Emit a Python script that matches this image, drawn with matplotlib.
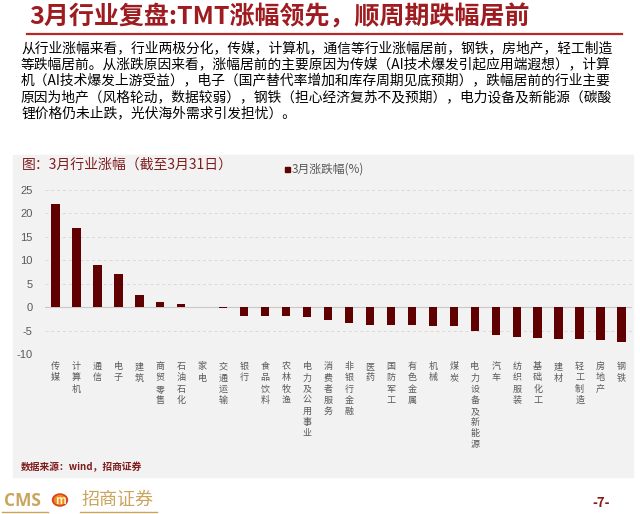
import matplotlib
matplotlib.use('Agg')
import matplotlib.pyplot as plt
from matplotlib.patches import Rectangle, Circle
from matplotlib.lines import Line2D

plt.rcParams['font.family'] = ['Noto Sans CJK SC', 'DejaVu Sans']

# industries and March change (%)
industries = ['传媒', '计算机', '通信', '电子', '建筑', '商贸零售', '石油石化', '家电',
              '交通运输', '银行', '食品饮料', '农林牧渔', '电力及公用事业', '消费者服务',
              '非银行金融', '医药', '国防军工', '有色金属', '机械', '煤炭',
              '电力设备及新能源', '汽车', '纺织服装', '基础化工', '建材', '轻工制造',
              '房地产', '钢铁']
change = [22.1, 16.8, 8.9, 7.1, 2.5, 1.2, 0.7, 0.05,
          -0.1, -1.8, -1.8, -1.9, -2.1, -2.7,
          -3.4, -3.8, -3.9, -3.9, -4.1, -4.1,
          -5.0, -5.9, -6.4, -6.6, -6.8, -6.9,
          -7.1, -7.4]
yticks = [25, 20, 15, 10, 5, 0, -5, -10]

title = '3月行业复盘:TMT涨幅领先，顺周期跌幅居前'
para = ['从行业涨幅来看，行业两极分化，传媒，计算机，通信等行业涨幅居前，钢铁，房地产，轻工制造',
        '等跌幅居前。从涨跌原因来看，涨幅居前的主要原因为传媒（AI技术爆发引起应用端遐想），计算',
        '机（AI技术爆发上游受益），电子（国产替代率增加和库存周期见底预期），跌幅居前的行业主要',
        '原因为地产（风格轮动，数据较弱），钢铁（担心经济复苏不及预期），电力设备及新能源（碳酸',
        '锂价格仍未止跌，光伏海外需求引发担忧）。']

W, H = 640, 514
fig = plt.figure(figsize=(W / 100, H / 100), dpi=100)


def fx(x):
    return x / W


def fy(y):
    return 1 - y / H


# page title + red rule
fig.text(fx(29), fy(17), title, fontsize=18, fontweight='bold', color='#9e1b20',
         va='center', ha='left')
fig.add_artist(Line2D([fx(27), fx(622)], [fy(34), fy(34)], color='#b22a2a', lw=1.6))

# paragraph
for i, line in enumerate(para):
    fig.text(fx(21), fy(48 + i * 16.3), line, fontsize=9.9, color='black',
             va='center', ha='left')

# grey chart panel
fig.add_artist(Rectangle((fx(13), fy(477)), fx(633) - fx(13), fy(155) - fy(477),
                         transform=fig.transFigure, color='#f2f2f2', zorder=0))
fig.text(fx(22), fy(165), '图：3月行业涨幅（截至3月31日）', fontsize=10, color='#7f1d1d',
         va='center', ha='left')

ax = fig.add_axes([fx(45), fy(354), fx(632) - fx(45), fy(190) - fy(354)])
ax.patch.set_alpha(0)
x = range(len(industries))
ax.bar(x, change, width=0.4, color='#600000', zorder=3, label='3月涨跌幅(%)')
for v in yticks:
    if v == 0:
        ax.axhline(0, color='#c8c8c8', lw=0.8, zorder=2)
    else:
        ax.axhline(v, color='#d9d9d9', lw=0.7, ls=(0, (3, 3)), zorder=1)
ax.set_ylim(-10, 25)
ax.set_xlim(-0.5, len(industries) - 0.5)
ax.set_yticks(yticks)
ax.set_yticklabels([str(v) for v in yticks], fontsize=8, color='#595959',
                   family=['Liberation Sans', 'DejaVu Sans'])
ax.set_xticks(list(x))
ax.set_xticklabels(['\n'.join(n) for n in industries], fontsize=6.5, color='#595959',
                   linespacing=1.3, va='top')
ax.tick_params(axis='y', length=0, pad=9)
ax.tick_params(axis='x', length=0, pad=6)
for s in ax.spines.values():
    s.set_visible(False)

# legend
fig.add_artist(Rectangle((fx(285), fy(172)), fx(5), fy(167) - fy(172),
                         transform=fig.transFigure, color='#600000'))
fig.text(fx(292), fy(169.5), '3月涨跌幅(%)', fontsize=8.5, color='#595959',
         va='center', ha='left')

fig.text(fx(21), fy(467), '数据来源：wind，招商证券', fontsize=7, color='#7f1d1d',
         fontweight='bold', va='center', ha='left')

# footer
gold = '#c9a55e'
fig.text(fx(4), fy(501), 'CMS', fontsize=12.5, color=gold, fontweight='bold',
         va='center', ha='left', family=['Open Sans', 'DejaVu Sans'])
fig.add_artist(Circle((fx(60), fy(500)), 7.5 / W, transform=fig.transFigure,
                      color='#d9431e', zorder=5))
fig.add_artist(Circle((fx(60), fy(500)), 5.5 / W, transform=fig.transFigure,
                      color='#f08a1c', zorder=5))
fig.text(fx(60), fy(500), 'm', fontsize=8, color='#fff3c8', fontweight='bold',
         style='italic', va='center', ha='center', zorder=6)
fig.text(fx(81), fy(500), '招商证券', fontsize=13, color=gold, va='center', ha='left')
fig.add_artist(Line2D([fx(2), fx(48)], [fy(512), fy(512)], color=gold, lw=1))
fig.add_artist(Line2D([fx(80), fx(157)], [fy(512), fy(512)], color=gold, lw=1))
fig.text(fx(601), fy(503), '-7-', fontsize=9.5, color='#8b1a1a', fontweight='bold',
         va='center', ha='center')

fig.savefig('out.png', dpi=100)
